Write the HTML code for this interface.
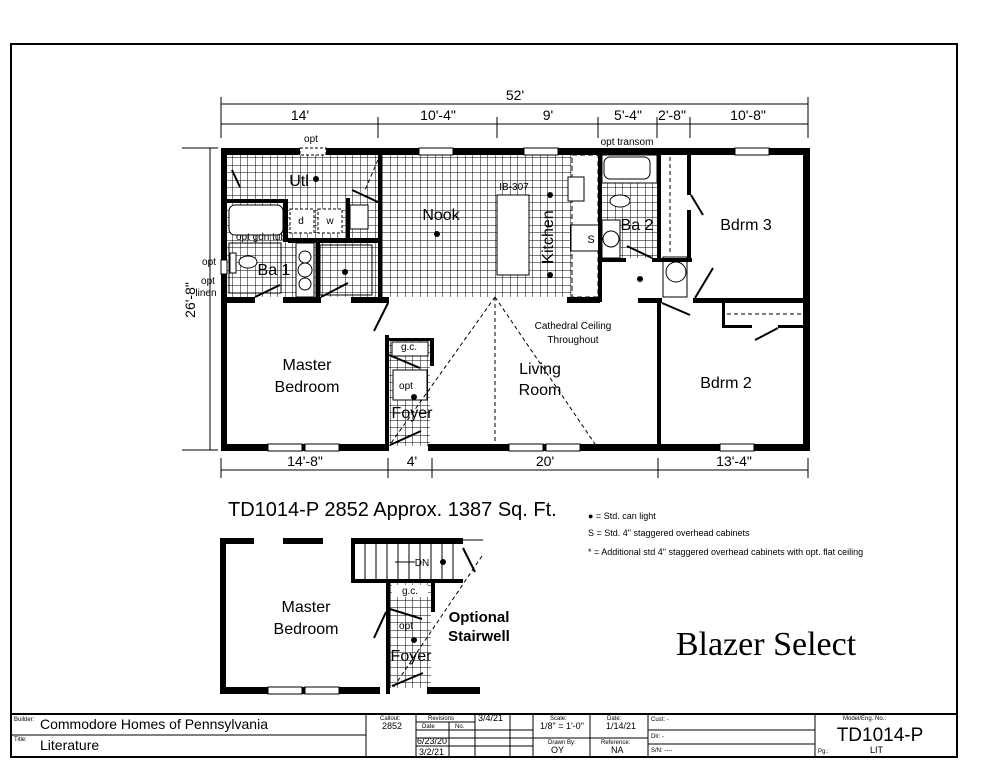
<!DOCTYPE html>
<html><head><meta charset="utf-8"><style>
html,body{margin:0;padding:0;background:#fff;}
svg{display:block;font-family:"Liberation Sans Narrow","Liberation Sans",sans-serif;}
</style></head><body>
<svg width="994" height="768" viewBox="0 0 994 768" xmlns="http://www.w3.org/2000/svg">
<defs>
<pattern id="g" width="7.5" height="7.5" patternUnits="userSpaceOnUse">
<path d="M0 0H7.5M0 0V7.5" stroke="#000" stroke-width="1" fill="none"/>
</pattern>
</defs>
<rect x="11" y="44" width="946" height="713" fill="none" stroke="#000" stroke-width="2"/>

<rect x="227" y="155" width="371" height="142" fill="url(#g)"/>
<rect x="602" y="155" width="55" height="103" fill="url(#g)"/>
<rect x="389" y="338" width="41" height="108" fill="url(#g)"/>
<rect x="390" y="582" width="41" height="106" fill="url(#g)"/>

<g fill="#fff" stroke="#000" stroke-width="1">
<rect x="229" y="205" width="54" height="30" rx="6"/>
<rect x="290" y="209" width="24" height="24" stroke-dasharray="3,2"/>
<rect x="318" y="209" width="24" height="24" stroke-dasharray="3,2"/>
<rect x="350" y="205" width="18" height="24"/>
<rect x="497" y="195" width="32" height="80"/>
<rect x="572" y="155" width="26" height="142" stroke-dasharray="5,3"/>
<rect x="568" y="177" width="16" height="24"/>
<rect x="571" y="225" width="28" height="26"/>
<rect x="602" y="155" width="55" height="28"/>
<rect x="604" y="157" width="46" height="22" rx="6"/>
<ellipse cx="620" cy="201" rx="10" ry="6"/>
<rect x="602" y="220" width="18" height="38"/>
<circle cx="611" cy="239" r="8"/>
<rect x="296" y="243" width="18" height="54"/>
<circle cx="305" cy="257" r="6"/><circle cx="305" cy="284" r="6"/><circle cx="305" cy="270" r="7"/>
<rect x="663" y="257" width="24" height="40"/>
<circle cx="676" cy="272" r="10"/>
<rect x="229" y="243" width="52" height="50"/>
<rect x="320" y="245" width="52" height="50"/>
<rect x="392" y="342" width="36" height="14"/>
<rect x="393" y="370" width="34" height="30"/>
</g>
<rect x="320" y="245" width="52" height="50" fill="url(#g)"/>
<rect x="229" y="243" width="52" height="50" fill="url(#g)"/>
<ellipse cx="248" cy="262" rx="9" ry="6" fill="#fff" stroke="#000"/>
<rect x="230" y="253" width="6" height="20" fill="#fff" stroke="#000"/>

<g fill="#000">
<rect x="221" y="148" width="589" height="7"/>
<rect x="221" y="148" width="6" height="303"/>
<rect x="803" y="148" width="7" height="303"/>
<rect x="221" y="444" width="168" height="7"/>
<rect x="428" y="444" width="382" height="7"/>
<rect x="227" y="297" width="28" height="6"/>
<rect x="283" y="297" width="38" height="6"/>
<rect x="351" y="297" width="38" height="6"/>
<rect x="567" y="297" width="33" height="6"/>
<rect x="378" y="155" width="4" height="145"/>
<rect x="227" y="199" width="61" height="4"/>
<rect x="283" y="199" width="5" height="43"/>
<rect x="288" y="238" width="94" height="5"/>
<rect x="316" y="238" width="4" height="60"/>
<rect x="346" y="198" width="4" height="40"/>
<rect x="598" y="148" width="4" height="154"/>
<rect x="657" y="148" width="4" height="114"/>
<rect x="600" y="258" width="26" height="4"/>
<rect x="652" y="258" width="40" height="4"/>
<rect x="687" y="155" width="4" height="40"/>
<rect x="687" y="210" width="4" height="50"/>
<rect x="638" y="298" width="24" height="5"/>
<rect x="693" y="298" width="117" height="5"/>
<rect x="657" y="298" width="4" height="150"/>
<rect x="722" y="303" width="3" height="25"/>
<rect x="722" y="325" width="30" height="3"/>
<rect x="778" y="325" width="28" height="3"/>
<rect x="385" y="335" width="4" height="116"/>
<rect x="389" y="338" width="45" height="3"/>
<rect x="430" y="338" width="4" height="28"/>
</g>
<g fill="#fff" stroke="#000" stroke-width="1">
<rect x="300" y="148" width="26" height="7" stroke-dasharray="3,2"/>
<rect x="419" y="148" width="34" height="7"/>
<rect x="524" y="148" width="34" height="7"/>
<rect x="735" y="148" width="34" height="7"/>
<rect x="268" y="444" width="34" height="7"/><rect x="305" y="444" width="34" height="7"/>
<rect x="509" y="444" width="34" height="7"/><rect x="546" y="444" width="34" height="7"/>
<rect x="720" y="444" width="34" height="7"/>
<rect x="221" y="260" width="6" height="14"/>
</g>
<g stroke="#000" stroke-width="2" fill="none">
<line x1="232" y1="170" x2="240" y2="187"/>
<line x1="352" y1="190" x2="378" y2="202"/>
<line x1="255" y1="297" x2="280" y2="285"/>
<line x1="321" y1="297" x2="348" y2="283"/>
<line x1="388" y1="303" x2="374" y2="331"/>
<line x1="627" y1="246" x2="652" y2="258"/>
<line x1="691" y1="195" x2="703" y2="215"/>
<line x1="695" y1="298" x2="713" y2="268"/>
<line x1="662" y1="303" x2="690" y2="315"/>
<line x1="755" y1="340" x2="778" y2="328"/>
<line x1="389" y1="355" x2="420" y2="368"/>
<line x1="390" y1="445" x2="421" y2="431"/>
</g>
<g stroke="#000" stroke-width="1" fill="none" stroke-dasharray="4,3">
<line x1="378" y1="160" x2="365" y2="190"/>
<line x1="495" y1="297" x2="389" y2="446"/>
<line x1="495" y1="297" x2="495" y2="444"/>
<line x1="495" y1="297" x2="595" y2="444"/>
<line x1="727" y1="314" x2="803" y2="314"/>
<line x1="670" y1="157" x2="670" y2="255"/>
</g>
<g fill="#000">
<circle cx="316" cy="179" r="3"/><circle cx="437" cy="234" r="3"/><circle cx="345" cy="272" r="3"/>
<circle cx="550" cy="195" r="3"/><circle cx="550" cy="275" r="3"/><circle cx="640" cy="279" r="3"/>
<circle cx="414" cy="397" r="3"/>
</g>
<g font-size="16" text-anchor="middle">
<text x="299" y="186">Utl</text>
<text x="441" y="220">Nook</text>
<text x="274" y="275">Ba 1</text>
<text x="637" y="230">Ba 2</text>
<text x="746" y="230">Bdrm 3</text>
<text x="726" y="388">Bdrm 2</text>
<text x="307" y="370">Master</text>
<text x="307" y="392">Bedroom</text>
<text x="540" y="374">Living</text>
<text x="540" y="395">Room</text>
<text x="412" y="418">Foyer</text>
<text x="553" y="237" transform="rotate(-90 553 237)">Kitchen</text>
</g>
<g font-size="10" text-anchor="middle">
<text x="311" y="142">opt</text>
<text x="627" y="145">opt transom</text>
<text x="514" y="190">IB-307</text>
<text x="261" y="240">opt gdn tub</text>
<text x="209" y="265">opt</text>
<text x="208" y="284">opt</text>
<text x="206" y="296">linen</text>
<text x="409" y="350">g.c.</text>
<text x="406" y="389">opt</text>
<text x="573" y="329">Cathedral Ceiling</text>
<text x="573" y="343">Throughout</text>
<text x="591" y="243" font-size="11">S</text>
<text x="301" y="224">d</text><text x="330" y="224">w</text>
</g>
<g stroke="#000" stroke-width="1">
<line x1="221" y1="104" x2="808" y2="104"/>
<line x1="221" y1="124" x2="808" y2="124"/>
<line x1="221" y1="97" x2="221" y2="138"/><line x1="808" y1="97" x2="808" y2="138"/>
<line x1="378" y1="117" x2="378" y2="138"/><line x1="497" y1="117" x2="497" y2="138"/>
<line x1="598" y1="117" x2="598" y2="138"/><line x1="657" y1="117" x2="657" y2="138"/>
<line x1="690" y1="117" x2="690" y2="138"/>
<line x1="221" y1="470" x2="808" y2="470"/>
<line x1="221" y1="458" x2="221" y2="478"/><line x1="388" y1="458" x2="388" y2="478"/>
<line x1="432" y1="458" x2="432" y2="478"/><line x1="658" y1="458" x2="658" y2="478"/>
<line x1="808" y1="458" x2="808" y2="478"/>
<line x1="210" y1="148" x2="210" y2="450"/>
<line x1="182" y1="148" x2="218" y2="148"/><line x1="182" y1="450" x2="218" y2="450"/>
</g>
<g font-size="14" text-anchor="middle">
<text x="515" y="100">52'</text>
<text x="300" y="120">14'</text><text x="438" y="120">10'-4"</text><text x="548" y="120">9'</text>
<text x="628" y="120">5'-4"</text><text x="672" y="120">2'-8"</text><text x="748" y="120">10'-8"</text>
<text x="305" y="466">14'-8"</text><text x="412" y="466">4'</text><text x="545" y="466">20'</text><text x="734" y="466">13'-4"</text>
<text x="195" y="300" transform="rotate(-90 195 300)">26'-8"</text>
</g>
<text x="228" y="516" font-size="20">TD1014-P 2852 Approx. 1387 Sq. Ft.</text>
<g font-size="9">
<text x="588" y="519">● = Std. can light</text>
<text x="588" y="536">S = Std. 4" staggered overhead cabinets</text>
<text x="588" y="555">* = Additional std 4" staggered overhead cabinets with opt. flat ceiling</text>
</g>

<g fill="#000">
<rect x="220" y="538" width="6" height="156"/>
<rect x="220" y="538" width="34" height="6"/>
<rect x="283" y="538" width="40" height="6"/>
<rect x="351" y="538" width="112" height="6"/>
<rect x="351" y="538" width="4" height="45"/>
<rect x="351" y="579" width="112" height="4"/>
<rect x="386" y="582" width="4" height="112"/>
<rect x="431" y="582" width="4" height="30"/>
<rect x="220" y="687" width="160" height="7"/>
<rect x="427" y="687" width="53" height="7"/>
</g>
<g fill="#fff" stroke="#000" stroke-width="1">
<rect x="268" y="687" width="34" height="7"/><rect x="305" y="687" width="34" height="7"/>
</g>
<g stroke="#000" stroke-width="1">
<line x1="365" y1="544" x2="365" y2="579"/><line x1="376" y1="544" x2="376" y2="579"/>
<line x1="387" y1="544" x2="387" y2="579"/><line x1="398" y1="544" x2="398" y2="579"/>
<line x1="409" y1="544" x2="409" y2="579"/><line x1="420" y1="544" x2="420" y2="579"/>
<line x1="431" y1="544" x2="431" y2="579"/><line x1="442" y1="544" x2="442" y2="579"/>
<line x1="453" y1="544" x2="453" y2="579"/>
<line x1="395" y1="562" x2="415" y2="562"/>
<line x1="463" y1="540" x2="483" y2="540"/>
</g>
<g stroke="#000" stroke-width="1" stroke-dasharray="4,3"><line x1="482" y1="556" x2="393" y2="688"/></g>
<g stroke="#000" stroke-width="2">
<line x1="463" y1="548" x2="475" y2="572"/>
<line x1="390" y1="609" x2="422" y2="619"/>
<line x1="386" y1="612" x2="374" y2="638"/>
<line x1="392" y1="686" x2="423" y2="673"/>
</g>
<rect x="392" y="585" width="36" height="12" fill="#fff"/>
<circle cx="443" cy="562" r="3"/><circle cx="414" cy="640" r="3"/>
<g font-size="10" text-anchor="middle"><text x="410" y="594">g.c.</text><text x="406" y="629">opt</text><text x="422" y="566">DN</text></g>
<g font-size="16" text-anchor="middle">
<text x="306" y="612">Master</text><text x="306" y="634">Bedroom</text>
<text x="411" y="661">Foyer</text>
</g>
<g font-size="15" font-weight="bold" text-anchor="middle">
<text x="479" y="622">Optional</text><text x="479" y="641">Stairwell</text>
</g>
<text x="766" y="655" font-size="34" font-family="Liberation Serif, serif" text-anchor="middle">Blazer Select</text>

<g stroke="#000" stroke-width="1" fill="none">
<line x1="11" y1="714" x2="957" y2="714" stroke-width="2"/>
<line x1="11" y1="735" x2="366" y2="735"/>
<line x1="366" y1="714" x2="366" y2="757"/>
<line x1="416" y1="714" x2="416" y2="757"/>
<line x1="449" y1="722" x2="449" y2="757"/>
<line x1="475" y1="714" x2="475" y2="757"/>
<line x1="510" y1="714" x2="510" y2="757"/>
<line x1="533" y1="714" x2="533" y2="757"/>
<line x1="590" y1="714" x2="590" y2="757"/>
<line x1="648" y1="714" x2="648" y2="757"/>
<line x1="815" y1="714" x2="815" y2="757"/>
<line x1="416" y1="722" x2="475" y2="722"/>
<line x1="416" y1="730" x2="533" y2="730"/>
<line x1="416" y1="738" x2="648" y2="738"/>
<line x1="416" y1="746" x2="533" y2="746"/>
<line x1="648" y1="730" x2="815" y2="730"/>
<line x1="648" y1="744" x2="815" y2="744"/>
</g>
<g font-size="6">
<text x="14" y="721">Builder:</text><text x="14" y="741">Title:</text>
<text x="380" y="720">Callout:</text><text x="428" y="720">Revisions</text>
<text x="422" y="728">Date</text><text x="455" y="728">No.</text>
<text x="550" y="720">Scale:</text><text x="607" y="720">Date:</text>
<text x="548" y="744">Drawn By:</text><text x="601" y="744">Reference:</text>
<text x="651" y="721">Cust: -</text><text x="651" y="738">Dlr:  -</text><text x="651" y="752">S/N:  ----</text>
<text x="843" y="720">Model/Eng. No.:</text><text x="818" y="753">Pg.:</text>
</g>
<g font-size="9">
<text x="478" y="721">3/4/21</text>
<text x="382" y="729">2852</text>
<text x="417" y="744">6/23/20</text><text x="419" y="755">3/2/21</text>
<text x="540" y="729">1/8" = 1'-0"</text><text x="606" y="729">1/14/21</text>
<text x="551" y="753">OY</text><text x="611" y="753">NA</text>
<text x="870" y="753">LIT</text>
</g>
<text x="40" y="729" font-size="14">Commodore Homes of Pennsylvania</text>
<text x="40" y="750" font-size="14">Literature</text>
<text x="880" y="741" font-size="19" text-anchor="middle">TD1014-P</text>
</svg>
</body></html>
